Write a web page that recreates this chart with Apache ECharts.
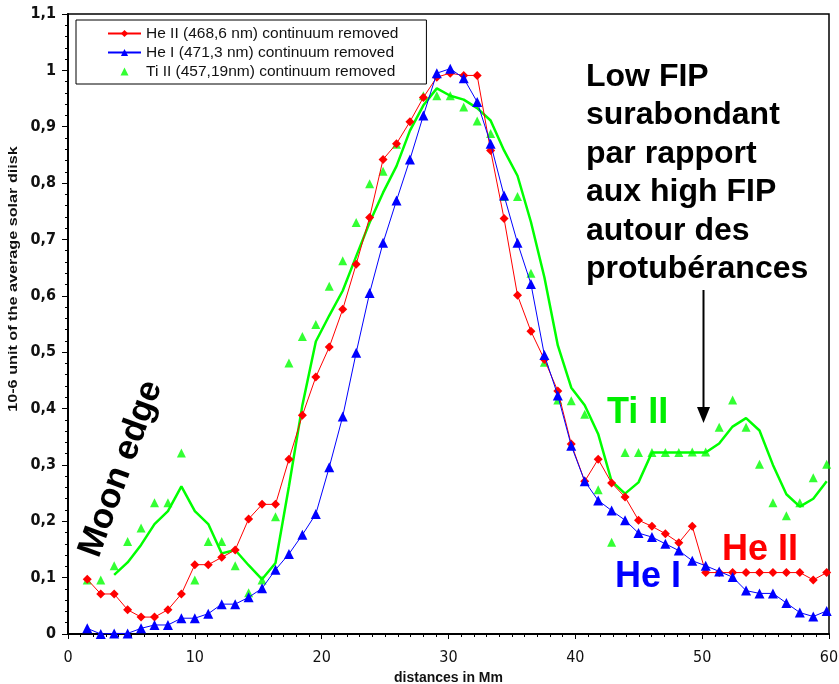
<!DOCTYPE html>
<html><head><meta charset="utf-8">
<script src="https://cdn.jsdelivr.net/npm/echarts@6/dist/echarts.min.js"></script>
<style>html,body{margin:0;padding:0;background:#fff;overflow:hidden}#c{width:839px;height:684px}</style>
</head><body><div id="c"></div>
<script>
// distances (Mm) of each measured position
const distances = [1.52, 2.58, 3.64, 4.70, 5.76, 6.82, 7.88, 8.94, 10.00, 11.06, 12.12, 13.18, 14.24, 15.30, 16.36, 17.42, 18.48, 19.54, 20.60, 21.66, 22.72, 23.78, 24.84, 25.90, 26.96, 28.02, 29.08, 30.14, 31.20, 32.26, 33.32, 34.38, 35.44, 36.50, 37.56, 38.62, 39.68, 40.74, 41.80, 42.86, 43.92, 44.98, 46.04, 47.10, 48.16, 49.22, 50.28, 51.34, 52.40, 53.46, 54.52, 55.58, 56.64, 57.70, 58.76, 59.82];
const heII = [0.097, 0.071, 0.071, 0.043, 0.030, 0.030, 0.043, 0.071, 0.123, 0.123, 0.136, 0.149, 0.204, 0.230, 0.230, 0.310, 0.388, 0.456, 0.509, 0.576, 0.656, 0.739, 0.842, 0.870, 0.909, 0.952, 0.988, 0.995, 0.991, 0.991, 0.858, 0.737, 0.601, 0.537, 0.487, 0.431, 0.337, 0.271, 0.310, 0.268, 0.243, 0.202, 0.191, 0.178, 0.162, 0.191, 0.109, 0.109, 0.109, 0.109, 0.109, 0.109, 0.109, 0.109, 0.096, 0.109];
const heI = [0.010, 0.000, 0.001, 0.001, 0.010, 0.016, 0.016, 0.028, 0.028, 0.036, 0.053, 0.053, 0.065, 0.081, 0.114, 0.142, 0.176, 0.213, 0.296, 0.386, 0.499, 0.605, 0.694, 0.769, 0.842, 0.920, 0.995, 1.003, 0.986, 0.944, 0.870, 0.778, 0.694, 0.621, 0.495, 0.423, 0.334, 0.271, 0.237, 0.219, 0.202, 0.179, 0.172, 0.160, 0.148, 0.130, 0.121, 0.111, 0.101, 0.077, 0.072, 0.072, 0.055, 0.038, 0.031, 0.041];
const tiII = [0.096, 0.096, 0.121, 0.164, 0.188, 0.233, 0.233, 0.321, 0.096, 0.164, 0.164, 0.121, 0.073, 0.096, 0.208, 0.481, 0.528, 0.549, 0.617, 0.662, 0.730, 0.799, 0.821, 0.869, 0.990, 0.955, 0.955, 0.955, 0.935, 0.910, 0.888, 0.776, 0.776, 0.640, 0.482, 0.415, 0.414, 0.390, 0.256, 0.163, 0.322, 0.322, 0.322, 0.322, 0.322, 0.323, 0.323, 0.367, 0.415, 0.367, 0.301, 0.233, 0.210, 0.233, 0.277, 0.301];
// green trend line
const tiIITrend = [null, null, 0.105, 0.127, 0.158, 0.195, 0.218, 0.262, 0.218, 0.195, 0.143, 0.149, 0.122, 0.097, 0.126, 0.262, 0.406, 0.519, 0.565, 0.609, 0.670, 0.730, 0.783, 0.830, 0.893, 0.938, 0.968, 0.955, 0.948, 0.933, 0.911, 0.858, 0.813, 0.731, 0.633, 0.512, 0.437, 0.406, 0.355, 0.271, 0.249, 0.269, 0.322, 0.322, 0.322, 0.322, 0.322, 0.338, 0.368, 0.383, 0.361, 0.300, 0.248, 0.226, 0.240, 0.271];
const seriesNames = ['He II (468,6 nm) continuum removed', 'He I (471,3 nm) continuum removed', 'Ti II (457,19nm) continuum removed'];
const annotationLines = ['Low FIP', 'surabondant', 'par rapport', 'aux high FIP', 'autour des', 'protubérances'];

const NARROW = "'Liberation Sans Narrow','Arial Narrow','DejaVu Sans Condensed',sans-serif";
const SANS = "'Liberation Sans',Arial,sans-serif";
const pairs = ys => distances.map((d, i) => [d, ys[i]]);
const smallTriangleIcon = 'path://M0,0L0.01,0L0.01,0.01Z M33,9L33,8.99L32.99,9Z M16.5,0.5L20.5,8.5L12.5,8.5Z';

const chart = echarts.init(document.getElementById('c'), null, {renderer: 'canvas', width: 839, height: 684});
chart.setOption({
  animation: false,
  backgroundColor: '#fff',
  grid: {left: 68, right: 10, top: 14, bottom: 50, show: true, borderColor: '#000', borderWidth: 1.5,
         containLabel: false, outerBoundsMode: 'none'},
  legend: {
    data: [{name: seriesNames[0]}, {name: seriesNames[1]}, {name: seriesNames[2], icon: smallTriangleIcon}],
    orient: 'vertical', left: 76, top: 20,
    backgroundColor: '#fff', borderColor: '#000', borderWidth: 1,
    padding: [4, 28, 3, 31], itemWidth: 33, itemHeight: 9, itemGap: 0,
    textStyle: {fontFamily: SANS, fontSize: 15.5, color: '#111', lineHeight: 19}
  },
  xAxis: {
    type: 'value', min: 0, max: 60, interval: 10,
    axisLine: {show: true, lineStyle: {color: '#000', width: 2}},
    axisTick: {show: true, length: 5, lineStyle: {color: '#000'}},
    minorTick: {show: true, splitNumber: 10, length: 3, lineStyle: {color: '#000'}},
    splitLine: {show: false},
    axisLabel: {margin: 16, fontFamily: NARROW, fontSize: 16, color: '#111'},
    name: 'distances in Mm', nameLocation: 'middle', nameGap: 32,
    nameTextStyle: {fontFamily: SANS, fontWeight: 'bold', fontSize: 14, color: '#111'}
  },
  yAxis: {
    type: 'value', min: 0, max: 1.1, interval: 0.1,
    axisLine: {show: true, lineStyle: {color: '#000', width: 2}},
    axisTick: {show: true, length: 6, lineStyle: {color: '#000'}},
    minorTick: {show: true, splitNumber: 5, length: 3, lineStyle: {color: '#000'}},
    splitLine: {show: false},
    axisLabel: {margin: 12, fontFamily: NARROW, fontWeight: 'bold', fontSize: 16, color: '#111',
      formatter: v => String(Math.round(v * 10) / 10).replace('.', ',')}
  },
  series: [
    {name: seriesNames[0], type: 'line', data: pairs(heII), symbol: 'diamond', symbolSize: 9,
     lineStyle: {color: '#ff0000', width: 1}, itemStyle: {color: '#ff0000'}, z: 3},
    {name: seriesNames[1], type: 'line', data: pairs(heI), symbol: 'triangle', symbolSize: 10,
     lineStyle: {color: '#0000ff', width: 1}, itemStyle: {color: '#0000ff'}, z: 4},
    {name: seriesNames[2], type: 'scatter', data: pairs(tiII), symbol: 'triangle', symbolSize: 9,
     itemStyle: {color: '#00ff00'}, z: 2},
    {name: 'Ti II trend', type: 'line', data: pairs(tiIITrend), symbol: 'none', connectNulls: false,
     lineStyle: {color: '#00ff00', width: 2.5}, itemStyle: {color: '#00ff00'}, z: 2}
  ],
  graphic: [
    {type: 'text', x: 13, y: 279, rotation: Math.PI / 2, scaleX: 1.2, z: 10,
     style: {text: '10-6 unit of the average solar diisk', font: "bold 13.5px " + SANS, fill: '#111', align: 'center', verticalAlign: 'middle'}},
    {type: 'text', x: 121, y: 469, rotation: 70 * Math.PI / 180, z: 10,
     style: {text: 'Moon edge', font: "bold 35px " + SANS, fill: '#000', align: 'center', verticalAlign: 'middle'}},
    {type: 'text', x: 586, y: 58, z: 10,
     style: {text: annotationLines.join('\n'), font: "bold 32px " + SANS, lineHeight: 38.4, fill: '#000', align: 'left', verticalAlign: 'top'}},
    {type: 'line', z: 10, shape: {x1: 703.5, y1: 290, x2: 703.5, y2: 410}, style: {stroke: '#000', lineWidth: 2}},
    {type: 'polygon', z: 10, shape: {points: [[697, 407], [710, 407], [703.5, 423]]}, style: {fill: '#000'}},
    {type: 'text', x: 607, y: 413.5, z: 10,
     style: {text: 'Ti II', font: "bold 36px " + SANS, fill: '#00ee00', align: 'left', verticalAlign: 'middle'}},
    {type: 'text', x: 722, y: 550.5, z: 10,
     style: {text: 'He II', font: "bold 36px " + SANS, fill: '#ff0000', align: 'left', verticalAlign: 'middle'}},
    {type: 'text', x: 615, y: 577.5, z: 10,
     style: {text: 'He I', font: "bold 36px " + SANS, fill: '#0000ff', align: 'left', verticalAlign: 'middle'}}
  ]
});
</script></body></html>
